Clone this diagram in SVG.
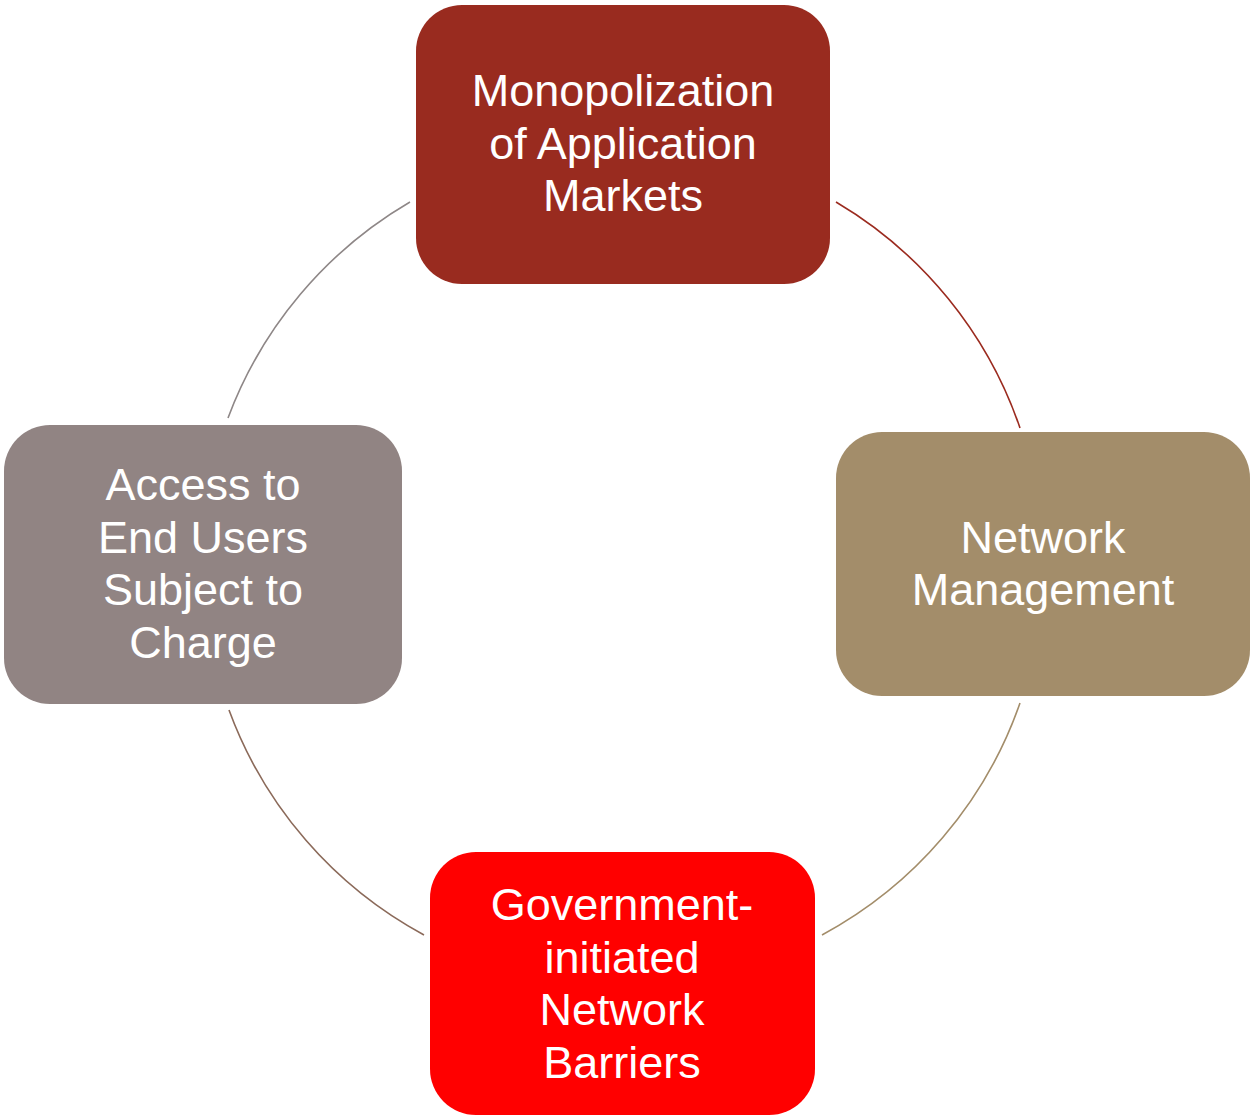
<svg xmlns="http://www.w3.org/2000/svg" width="1251" height="1117" viewBox="0 0 1251 1117">
<style>
.lbl{font-family:"Liberation Sans",Arial,sans-serif;font-size:45px;fill:#ffffff;text-anchor:middle}
.arc{fill:none;stroke-width:1.6}
</style>
<rect width="1251" height="1117" fill="#ffffff"/>
<g id="connectors">
<path class="arc" d="M 410 202 A 421 421 0 0 0 228 418" stroke="#8e8787"/>
<path class="arc" d="M 836 202 A 421 421 0 0 1 1020 428" stroke="#9b2b1f"/>
<path class="arc" d="M 1020 703 A 421 421 0 0 1 822 935" stroke="#a38d6a"/>
<path class="arc" d="M 424 935 A 421 421 0 0 1 229 710" stroke="#8b6a5a"/>
</g>
<g id="node-monopolization">
<rect x="416" y="5" width="414" height="279" rx="46" fill="#992b1f"/>
<text class="lbl" x="623" y="106">Monopolization</text>
<text class="lbl" x="623" y="159">of Application</text>
<text class="lbl" x="623" y="211">Markets</text>
</g>
<g id="node-network-management">
<rect x="836" y="432" width="414" height="264" rx="46" fill="#a38d6a"/>
<text class="lbl" x="1043" y="553">Network</text>
<text class="lbl" x="1043" y="605">Management</text>
</g>
<g id="node-government">
<rect x="430" y="852" width="385" height="263" rx="46" fill="#ff0000"/>
<text class="lbl" x="622" y="920">Government-</text>
<text class="lbl" x="622" y="973">initiated</text>
<text class="lbl" x="622" y="1025">Network</text>
<text class="lbl" x="622" y="1078">Barriers</text>
</g>
<g id="node-access">
<rect x="4" y="425" width="398" height="279" rx="46" fill="#918483"/>
<text class="lbl" x="203" y="500">Access to</text>
<text class="lbl" x="203" y="553">End Users</text>
<text class="lbl" x="203" y="605">Subject to</text>
<text class="lbl" x="203" y="658">Charge</text>
</g>
</svg>
